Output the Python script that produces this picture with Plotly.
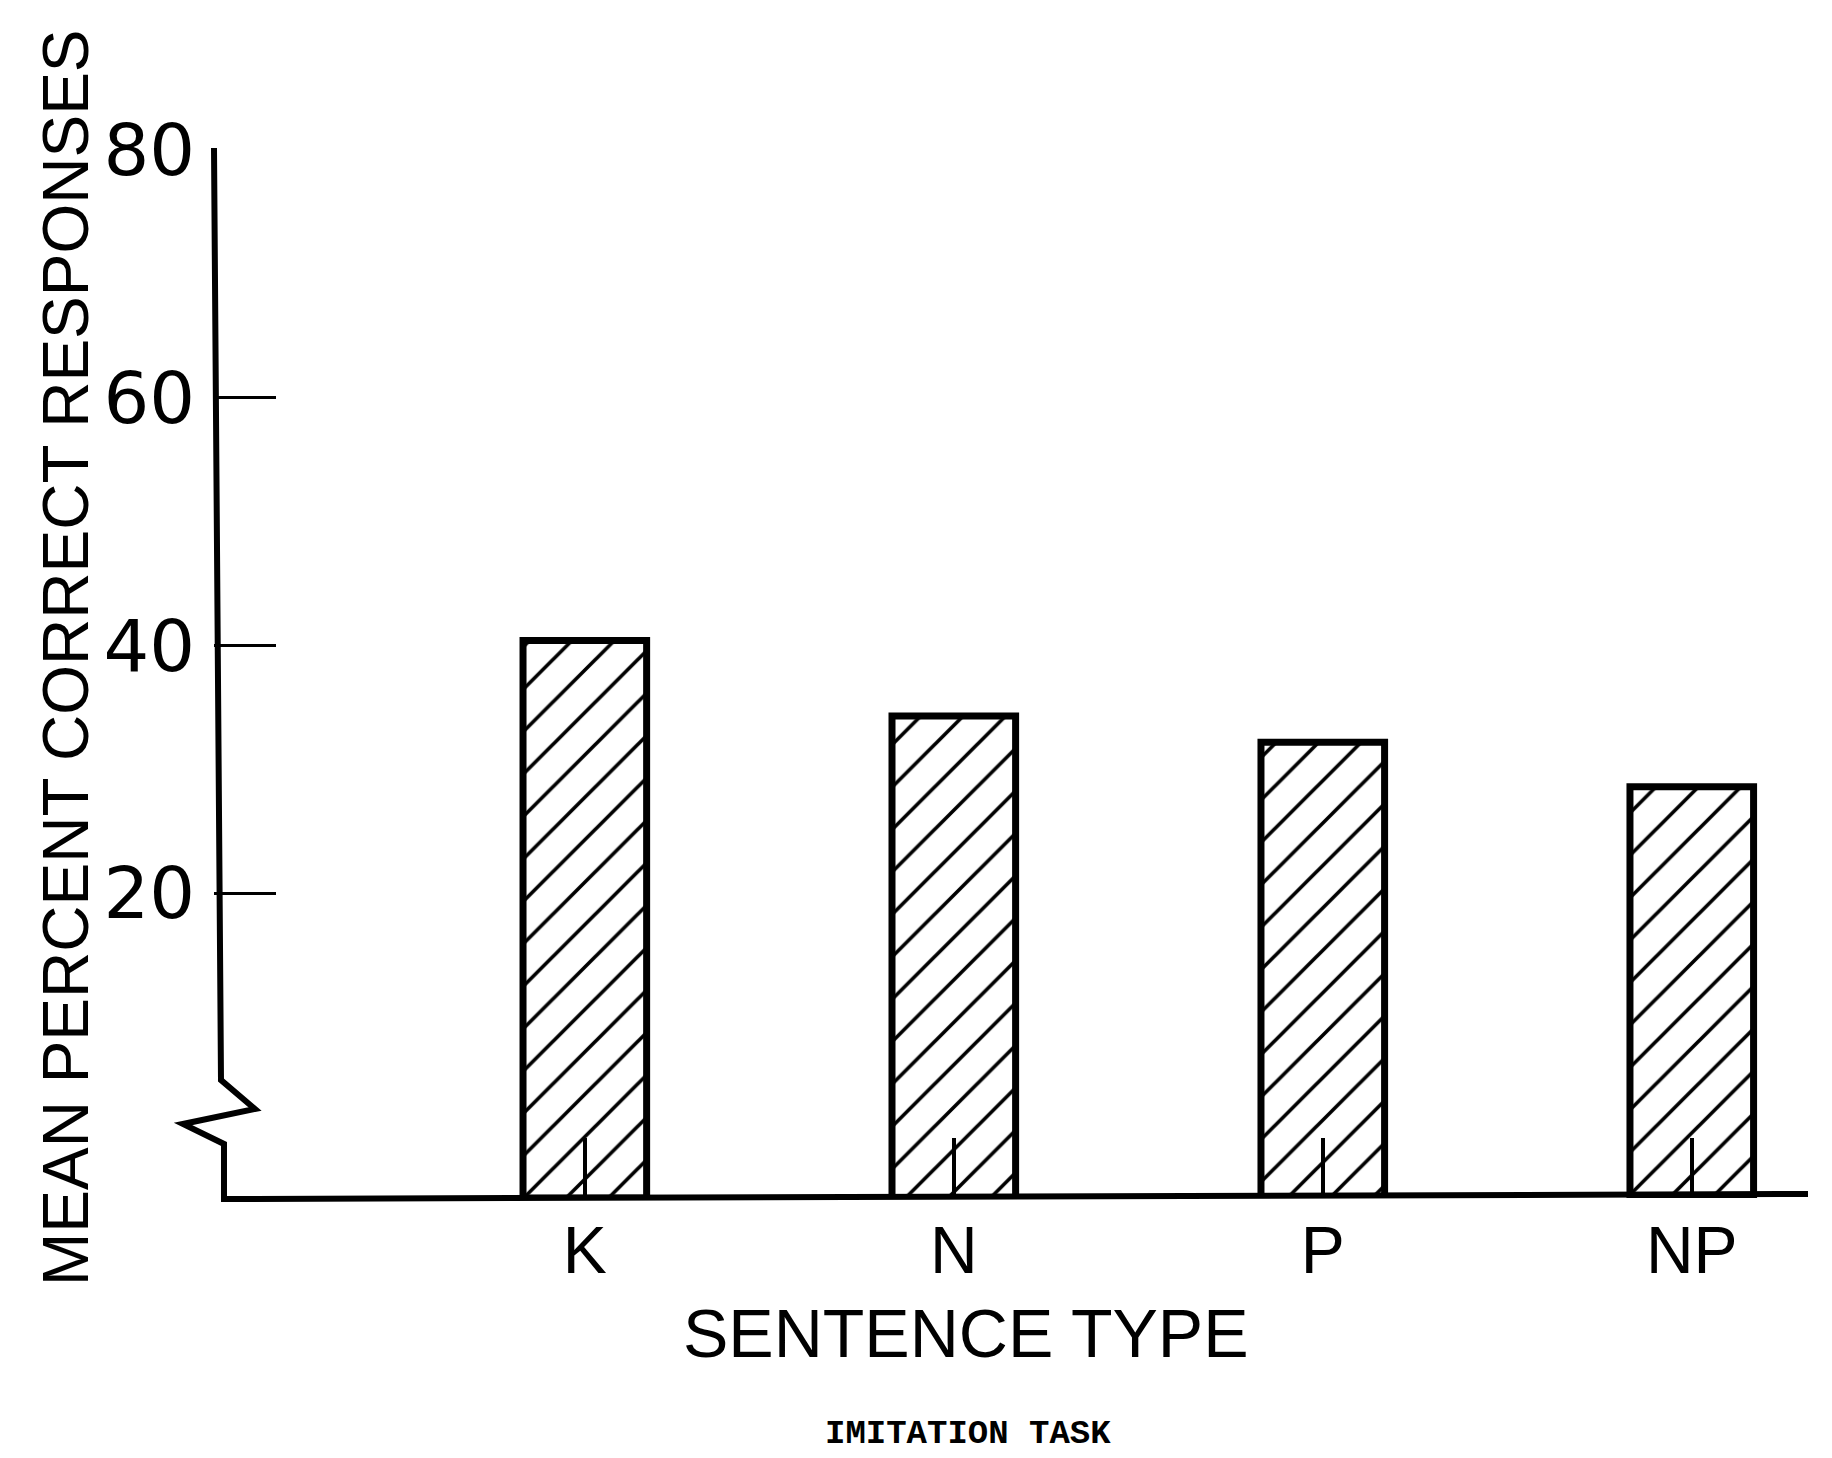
import plotly.graph_objects as go

# ---- data ----
categories = ["K", "N", "P", "NP"]
values = [40.4, 34.3, 32.2, 28.6]
y_tick_vals = [20, 40, 60, 80]
y_tick_text = ["20", "40", "60", "80"]
y_title = "MEAN PERCENT CORRECT RESPONSES"
x_title = "SENTENCE TYPE"
caption = "IMITATION TASK"

# axis floor below the scale break (bars stand on the baseline)
AXIS_FLOOR = -4.6
Y_TOP = 80

W, H = 1832, 1458
L, R, T, B = 206, 32, 142, 268
PW, PH = W - L - R, H - T - B

FONT = "Liberation Sans, Arial, sans-serif"
DIGIT_FONT = "DejaVu Sans, Liberation Sans, sans-serif"


def px(xpix):
    return (xpix - L) / PW


def py(ypix):
    return 1 - (ypix - T) / PH


fig = go.Figure()
fig.add_trace(go.Bar(
    x=categories,
    y=[v - AXIS_FLOOR for v in values],
    base=AXIS_FLOOR,
    width=0.335,
    marker=dict(
        color="white",
        line=dict(color="black", width=7),
        pattern=dict(shape="/", fgcolor="black", bgcolor="white",
                     fillmode="replace", size=30, solidity=0.12),
    ),
    hoverinfo="skip",
))

# y axis line with a scale break, plus baseline
pts = [(206, 140), (213, 1072), (247, 1101), (175, 1116), (216, 1136),
       (216, 1191), (1800, 1186)]
path = "M " + " L ".join(f"{px(a):.5f},{py(b):.5f}" for a, b in pts)
fig.add_shape(type="path", path=path, xref="paper", yref="paper",
              line=dict(color="black", width=6))

fig.update_layout(
    width=W, height=H,
    margin=dict(l=L, r=R, t=T, b=B),
    paper_bgcolor="white", plot_bgcolor="white",
    showlegend=False,
    xaxis=dict(
        type="category",
        range=[-1.005, 3.315],
        showline=False, showgrid=False, zeroline=False,
        ticks="inside", ticklen=60, tickwidth=3.5, tickcolor="black",
        tickfont=dict(family=FONT, size=66, color="black"),
        ticklabelstandoff=8,
    ),
    yaxis=dict(
        range=[AXIS_FLOOR, Y_TOP],
        showline=False, showgrid=False, zeroline=False,
        tickvals=y_tick_vals, ticktext=y_tick_text,
        ticks="inside", ticklen=62, tickwidth=3, tickcolor="black",
        tickfont=dict(family=DIGIT_FONT, size=72, color="black"),
        ticklabelstandoff=18,
    ),
    annotations=[
        dict(text=y_title, xref="paper", yref="paper", x=px(58), y=py(650),
             textangle=-90, showarrow=False, xanchor="center", yanchor="middle",
             font=dict(family=FONT, size=64, color="black")),
        dict(text=x_title, xref="paper", yref="paper", x=px(958), y=py(1325),
             showarrow=False, xanchor="center", yanchor="middle",
             font=dict(family=FONT, size=68, color="black")),
        dict(text="<b>" + caption + "</b>", xref="paper", yref="paper",
             x=px(960), y=py(1426),
             showarrow=False, xanchor="center", yanchor="middle",
             font=dict(family="Courier New, Liberation Mono, monospace", size=34,
                       color="black")),
    ],
)

fig.write_html("out.html")
